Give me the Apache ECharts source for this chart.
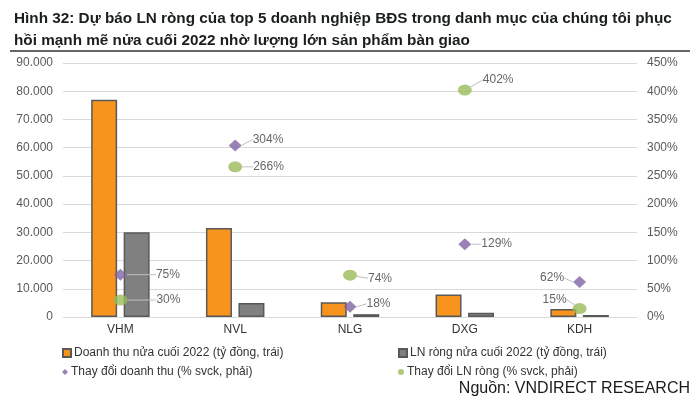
<!DOCTYPE html>
<html>
<head>
<meta charset="utf-8">
<script src="https://cdn.jsdelivr.net/npm/echarts@6/dist/echarts.min.js"></script>
<style>
  html, body { margin: 0; padding: 0; background: #fff; }
  #main { width: 700px; height: 400px; }
</style>
</head>
<body>
<div id="main"></div>
<script>
// chart data
let companies = ["VHM", "NVL", "NLG", "DXG", "KDH"];
let revenue = [77000, 31500, 5200, 8000, 2800];       // ty dong
let netProfit = [30000, 5000, 1000, 1500, 700];        // ty dong
let revenueGrowth = [75, 304, 18, 129, 62];            // % svck
let profitGrowth = [30, 266, 74, 402, 15];             // % svck

let seriesNames = [
    "Doanh thu nửa cuối 2022 (tỷ đồng, trái)",
    "LN ròng nửa cuối 2022 (tỷ đồng, trái)",
    "Thay đổi doanh thu (% svck, phải)",
    "Thay đổi LN ròng (% svck, phải)"
];

// where each point label sits, relative to its marker (dx, dy)
let revLabelShift = [[24, 0], [6, -6], [5, -3], [5, 0], [-4, -4]];
let profLabelShift = [[24, 0], [6, 0], [6, 3], [6, -10], [-1, -9]];
let labelSide = ["right", "right", "right", "right", "left"];

let font = "Liberation Sans, Arial, sans-serif";

function dotThousands(v) {
    return String(v).replace(/\B(?=(\d{3})+(?!\d))/g, ".");
}

function pointData(values) {
    return values.map(function (v, i) {
        return { value: v, label: { position: labelSide[i] } };
    });
}

function legendAt(name, left, top, icon, size) {
    return {
        data: [name],
        left: left,
        top: top,
        icon: icon,
        itemWidth: size,
        itemHeight: size,
        itemGap: 0,
        padding: 0,
        selectedMode: false,
        textStyle: { fontFamily: font, fontSize: 12, color: "#333", padding: [0, 0, 0, -2] }
    };
}

let myChart = echarts.init(document.getElementById("main"));

let pointLabel = {
    show: true,
    formatter: "{c}%",
    fontFamily: font,
    fontSize: 12,
    color: "#404040"
};

let option = {
    animation: false,
    title: {
        text: "Hình 32: Dự báo LN ròng của top 5 doanh nghiệp BĐS trong danh mục của chúng tôi phục\nhồi mạnh mẽ nửa cuối 2022 nhờ lượng lớn sản phẩm bàn giao",
        left: 9,
        top: 3,
        textStyle: { fontFamily: font, fontSize: 15.3, fontWeight: "bold", color: "#1a1f1c", lineHeight: 22 }
    },
    graphic: [
        { type: "line", shape: { x1: 10, y1: 51, x2: 690, y2: 51 }, style: { stroke: "#333", lineWidth: 1.5 } },
        {
            type: "text", right: 10, top: 381,
            style: { text: "Nguồn: VNDIRECT RESEARCH", font: "16px 'Liberation Sans Narrow', 'Liberation Sans', Arial", fill: "#1a1a1a" }
        }
    ],
    legend: [
        legendAt(seriesNames[0], 62, 347, "rect", 8),
        legendAt(seriesNames[1], 398, 347, "rect", 8),
        legendAt(seriesNames[2], 62, 366, "diamond", 6),
        legendAt(seriesNames[3], 398, 366, "circle", 6)
    ],
    grid: { left: 63, right: 63, top: 63, bottom: 83 },
    xAxis: {
        type: "category",
        data: companies,
        axisLine: { show: false },
        axisTick: { show: false },
        axisLabel: { fontFamily: font, fontSize: 12, color: "#333", margin: 7 }
    },
    yAxis: [
        {
            type: "value", min: 0, max: 90000, interval: 10000,
            axisLabel: { fontFamily: font, fontSize: 12, color: "#595959", formatter: dotThousands, margin: 10 },
            splitLine: { lineStyle: { color: "#d9d9d9", width: 1 } }
        },
        {
            type: "value", min: 0, max: 450, interval: 50,
            axisLabel: { fontFamily: font, fontSize: 12, color: "#595959", formatter: "{value}%", margin: 10 },
            splitLine: { show: false }
        }
    ],
    series: [
        {
            name: seriesNames[0], type: "bar", data: revenue,
            barWidth: 26, barGap: "25%",
            itemStyle: { color: "#f7941d", borderColor: "#595959", borderWidth: 1.5 }
        },
        {
            name: seriesNames[1], type: "bar", data: netProfit,
            barWidth: 26,
            itemStyle: { color: "#808080", borderColor: "#595959", borderWidth: 1.5 }
        },
        {
            name: seriesNames[2], type: "scatter", yAxisIndex: 1, z: 5,
            data: pointData(revenueGrowth),
            symbol: "diamond", symbolSize: [13, 12],
            itemStyle: { color: "#8064a2" },
            label: pointLabel,
            labelLine: { show: true, lineStyle: { color: "#bfbfbf", width: 1 } },
            labelLayout: function (p) {
                return { dx: revLabelShift[p.dataIndex][0], dy: revLabelShift[p.dataIndex][1] };
            }
        },
        {
            name: seriesNames[3], type: "scatter", yAxisIndex: 1, z: 4,
            data: pointData(profitGrowth),
            symbol: "circle", symbolSize: [14, 11],
            itemStyle: { color: "#9bbb59" },
            label: pointLabel,
            labelLine: { show: true, lineStyle: { color: "#bfbfbf", width: 1 } },
            labelLayout: function (p) {
                return { dx: profLabelShift[p.dataIndex][0], dy: profLabelShift[p.dataIndex][1] };
            }
        }
    ]
};

myChart.setOption(option);
</script>
</body>
</html>
